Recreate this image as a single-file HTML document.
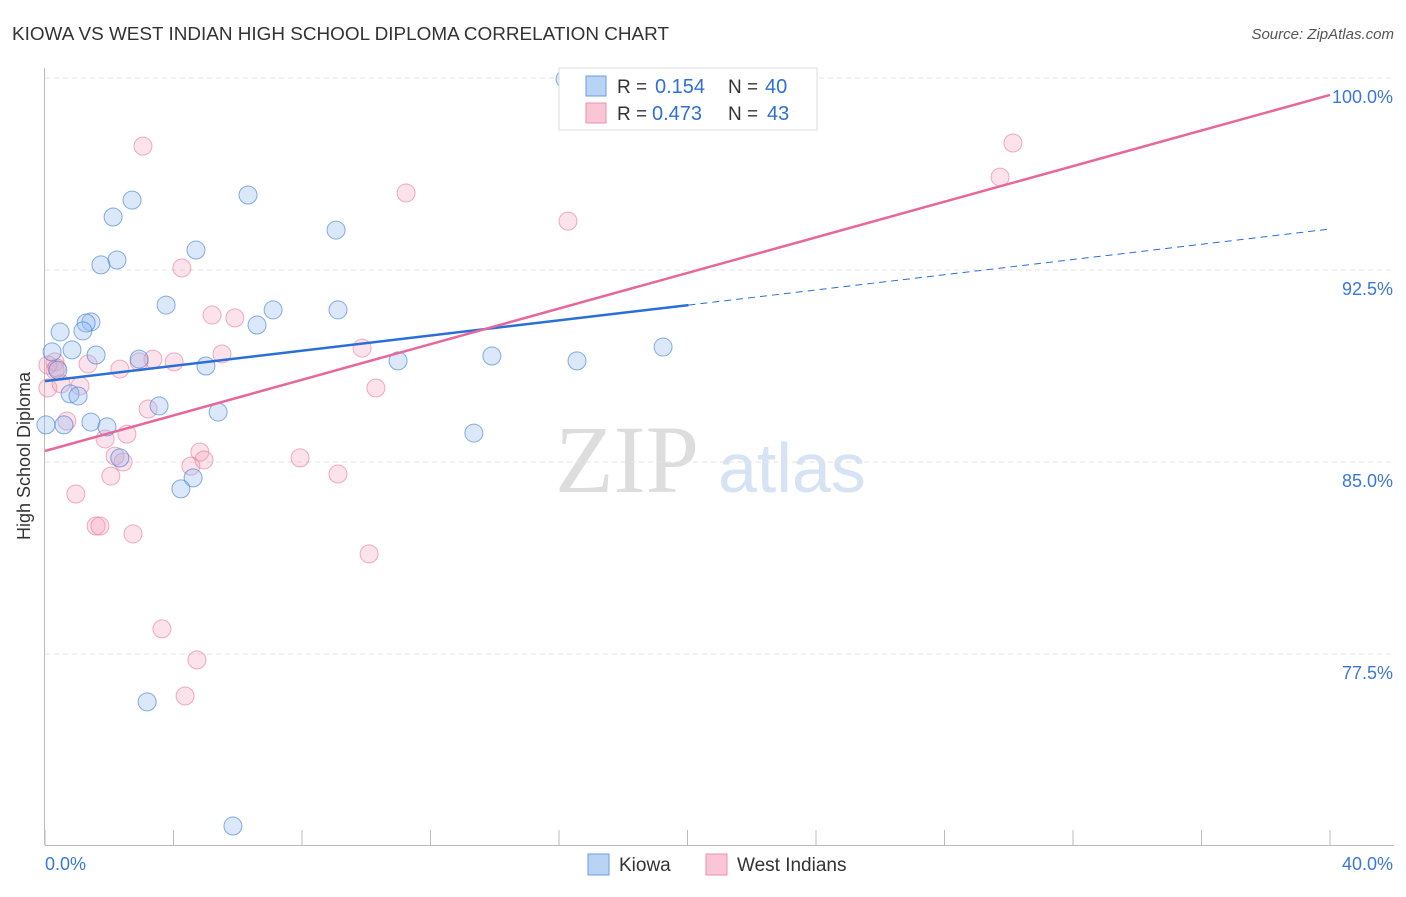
<!DOCTYPE html>
<html><head><meta charset="utf-8"><style>
body{margin:0;background:#fff;font-family:"Liberation Sans",sans-serif}
</style></head><body>
<svg id="c" width="1406" height="892">
<text x="12" y="40" font-size="18" fill="#333" textLength="657" lengthAdjust="spacingAndGlyphs">KIOWA VS WEST INDIAN HIGH SCHOOL DIPLOMA CORRELATION CHART</text>
<text x="1394" y="39" font-size="15" fill="#555" font-style="italic" text-anchor="end">Source: ZipAtlas.com</text>
<text x="30" y="456" font-size="18" fill="#333" text-anchor="middle" transform="rotate(-90 30 456)">High School Diploma</text>
<text x="555" y="492" font-size="96" fill="#ddd" font-family="Liberation Serif,serif">ZIP</text>
<text x="718" y="492" font-size="70" fill="#d5e3f5">atlas</text>
<g id="grid"></g><g id="pts"></g><g id="lines"></g>
<g>
<rect x="559" y="68" width="258" height="62" fill="#fff" stroke="#ddd"/>
<rect x="586" y="76" width="20" height="20" fill="#b9d3f5" stroke="#6a9be0"/>
<rect x="586" y="103" width="20" height="20" fill="#fac6d6" stroke="#ee8fae"/>
<text x="617" y="93" font-size="19" fill="#333">R =</text><text x="655" y="93" font-size="20" fill="#2f6fd6">0.154</text>
<text x="728" y="93" font-size="19" fill="#333">N =</text><text x="765" y="93" font-size="20" fill="#2f6fd6">40</text>
<text x="617" y="120" font-size="19" fill="#333">R =</text><text x="652" y="120" font-size="20" fill="#2f6fd6">0.473</text>
<text x="728" y="120" font-size="19" fill="#333">N =</text><text x="767" y="120" font-size="20" fill="#2f6fd6">43</text>
</g>
<g>
<rect x="588" y="854" width="21" height="21" fill="#b9d3f5" stroke="#6a9be0"/>
<text x="619" y="871" font-size="19" fill="#333">Kiowa</text>
<rect x="706" y="854" width="21" height="21" fill="#fac6d6" stroke="#ee8fae"/>
<text x="737" y="871" font-size="19" fill="#333">West Indians</text>
</g>
</svg>
<script>
const yTicks=[100,92.5,85,77.5];
const yTickLabels=["100.0%","92.5%","85.0%","77.5%"];
const kiowaX=[16.19,6.32,2.71,2.12,9.06,4.70,2.24,1.74,3.77,7.10,9.12,1.43,1.28,0.47,1.18,6.60,0.22,0.84,1.59,2.93,5.01,10.99,13.91,16.56,19.24,0.40,0.78,1.03,3.55,5.39,1.43,0.59,1.93,0.03,13.35,2.33,4.61,4.23,3.18,5.85];
const kiowaY=[99.96,95.43,95.23,94.57,94.06,93.28,92.89,92.70,91.13,90.94,90.94,90.47,90.43,90.08,90.12,90.35,89.3,89.38,89.18,89.02,88.75,88.95,89.14,88.95,89.49,88.59,87.66,87.58,87.19,86.95,86.56,86.45,86.37,86.45,86.13,85.16,84.38,83.95,75.63,70.78];
const wiX=[30.13,29.73,11.24,16.28,3.05,4.26,5.20,5.91,9.87,5.51,3.36,4.02,2.93,1.34,2.33,0.31,0.31,0.09,0.50,1.09,10.30,3.21,0.68,2.55,1.87,2.18,2.43,4.82,4.54,4.95,7.94,9.12,2.05,0.96,1.59,1.71,2.74,10.09,3.64,4.73,4.36,0.09,0.37];
const wiY=[97.46,96.13,95.51,94.41,97.34,92.58,90.74,90.63,89.45,89.22,89.02,88.91,88.91,88.83,88.63,88.91,88.59,87.89,88.05,87.97,87.89,87.07,86.60,86.09,85.90,85.23,85.0,85.39,84.84,85.08,85.16,84.53,84.45,83.75,82.5,82.5,82.19,81.41,78.48,77.27,75.86,88.79,88.67];
const kiowaTrend=[88.16,91.13,94.1];
const wiTrend=[85.43,99.34];
const NS="http://www.w3.org/2000/svg";
const sx=v=>45+v/40*1285, sy=v=>78+(100-v)/7.5*192;
function mk(t,a,p){const e=document.createElementNS(NS,t);for(const k in a)e.setAttribute(k,a[k]);p.appendChild(e);return e;}
const svg=document.getElementById('c'),grid=document.getElementById('grid'),pts=document.getElementById('pts'),lines=document.getElementById('lines');
yTicks.forEach((t,i)=>{
 const l=mk('line',{x1:45,x2:1394,y1:sy(t),y2:sy(t),stroke:'#e3e3e3','stroke-dasharray':'5 4'},grid);
 
 
 const tx=mk('text',{x:1393,y:sy(t)+25,'font-size':18,fill:'#3a78d8','text-anchor':'end'},grid);tx.textContent=yTickLabels[i];
 
 
});
const ax=mk('line',{x1:44.5,x2:44.5,y1:68,y2:845,stroke:'#bbb'},grid);


const bx=mk('line',{x1:45,x2:1394,y1:845.5,y2:845.5,stroke:'#bbb'},grid);


for(let i=0;i<=10;i++){const t=mk('line',{x1:sx(i*4),x2:sx(i*4),y1:830,y2:845,stroke:'#bbb'},grid);
 
 }
[["0.0%",45,"start"],["40.0%",1393,"end"]].forEach(a=>{const t=mk('text',{x:a[1],y:870,'font-size':18,fill:'#3a78d8','text-anchor':a[2]},grid);t.textContent=a[0];
 
 });
wiX.forEach((x,i)=>{const c=mk('circle',{cx:sx(x),cy:sy(wiY[i]),r:9,fill:'rgba(246,160,186,0.3)',stroke:'rgba(232,120,155,0.6)','stroke-width':1},pts);
 
 });
kiowaX.forEach((x,i)=>{const c=mk('circle',{cx:sx(x),cy:sy(kiowaY[i]),r:9,fill:'rgba(150,190,240,0.35)',stroke:'rgba(60,120,210,0.6)','stroke-width':1},pts);
 
 });
const l1=mk('line',{x1:sx(0),y1:sy(kiowaTrend[0]),x2:sx(20.03),y2:sy(kiowaTrend[1]),stroke:'#2a6fd6','stroke-width':2.5},lines);


const l2=mk('line',{x1:sx(20.03),y1:sy(kiowaTrend[1]),x2:sx(40),y2:sy(kiowaTrend[2]),stroke:'#2a6fd6','stroke-width':1,'stroke-dasharray':'7 5'},lines);


const l3=mk('line',{x1:sx(0),y1:sy(wiTrend[0]),x2:sx(40),y2:sy(wiTrend[1]),stroke:'#e8679a','stroke-width':2.5},lines);


</script>
</body></html>
